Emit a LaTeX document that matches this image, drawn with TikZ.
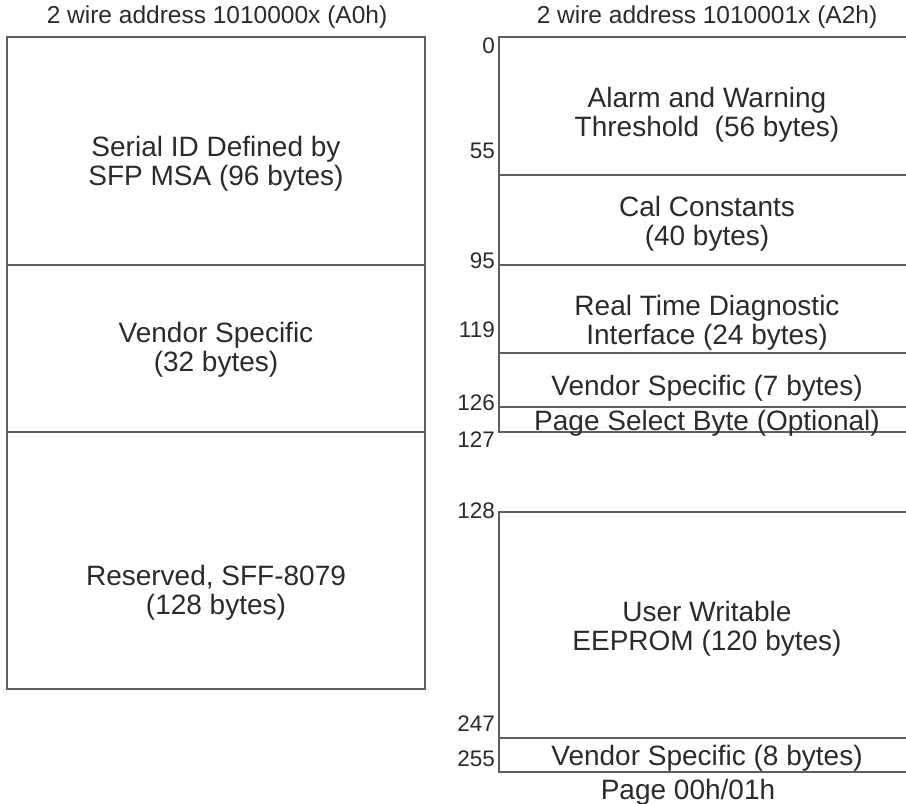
\documentclass[tikz,border=0pt]{standalone}
\usepackage{fontspec}
\setmainfont{Liberation Sans}
\definecolor{rule}{HTML}{5E5E5E}
\definecolor{ink}{HTML}{2B2B2B}
\begin{document}
\begin{tikzpicture}[x=1pt,y=-1pt,
  frame/.style={draw=rule,line width=1.7pt},
  fieldtext/.style={text=ink,font=\fontsize{28}{29}\selectfont,align=center,inner sep=0pt},
  offset/.style={text=ink,font=\fontsize{22.5}{24}\selectfont,inner sep=0pt,anchor=base east},
  heading/.style={text=ink,font=\fontsize{24.5}{26}\selectfont,inner sep=0pt,anchor=base}]
\useasboundingbox (0,0) rectangle (906,804);

% ---------- A0h: serial ID memory ----------
\node[heading] (titleA0) at (217,23) {2 wire address 1010000x (A0h)};
\draw[frame] (7,37) rectangle (425,689);
\draw[frame] (7,265) -- (425,265);
\draw[frame] (7,432) -- (425,432);
\node[fieldtext] (serialid) at (216,164) {Serial ID Defined by\\SFP MSA (96 bytes)};
\node[fieldtext] (vendorA0) at (216,350) {Vendor Specific\\(32 bytes)};
\node[fieldtext] (reserved) at (216,593) {Reserved, SFF-8079\\(128 bytes)};

% ---------- A2h: diagnostics memory ----------
\node[heading] (titleA2) at (707,23) {2 wire address 1010001x (A2h)};
% lower half, bytes 0-127
\draw[frame] (906,37) -- (499,37) -- (499,432) -- (906,432);
\draw[frame] (499,175) -- (906,175);
\draw[frame] (499,265) -- (906,265);
\draw[frame] (499,353) -- (906,353);
\draw[frame] (499,407) -- (906,407);
\node[fieldtext] (alarm) at (707,115) {Alarm and Warning\\Threshold\ \ (56 bytes)};
\node[fieldtext] (cal) at (707,224) {Cal Constants\\(40 bytes)};
\node[fieldtext] (rtdiag) at (707,323) {Real Time Diagnostic\\Interface (24 bytes)};
\node[fieldtext,anchor=base] (vendor7) at (707,395) {Vendor Specific (7 bytes)};
\node[fieldtext,anchor=base] (pagesel) at (707,430) {Page Select Byte (Optional)};
% upper half, bytes 128-255
\draw[frame] (906,512) -- (499,512) -- (499,772) -- (906,772);
\draw[frame] (499,738) -- (906,738);
\node[fieldtext] (eeprom) at (707,629) {User Writable\\EEPROM (120 bytes)};
\node[fieldtext,anchor=base] (vendor8) at (707,765) {Vendor Specific (8 bytes)};
\node[fieldtext,anchor=base] (pagename) at (688,799) {Page 00h/01h};

% byte offsets
\node[offset] (o0)   at (495,53)  {0};
\node[offset] (o55)  at (495,158) {55};
\node[offset] (o95)  at (495,268) {95};
\node[offset] (o119) at (495,337) {119};
\node[offset] (o126) at (495,410) {126};
\node[offset] (o127) at (495,447) {127};
\node[offset] (o128) at (495,518) {128};
\node[offset] (o247) at (495,731) {247};
\node[offset] (o255) at (495,766) {255};
\end{tikzpicture}
\end{document}
